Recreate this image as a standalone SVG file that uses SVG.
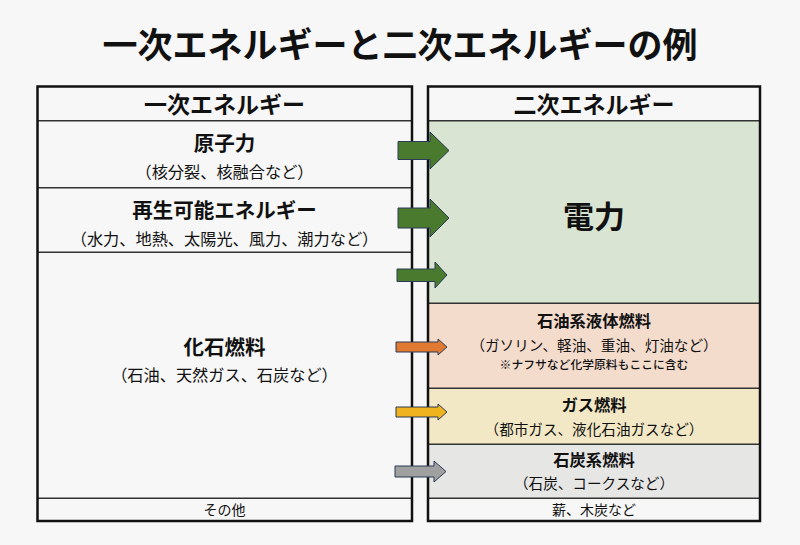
<svg xmlns="http://www.w3.org/2000/svg" width="800" height="545" viewBox="0 0 800 545">
<style>
text{font-family:"Noto Sans CJK JP","Noto Sans",sans-serif;fill:#111;text-anchor:middle}
.title{font-size:35px;font-weight:bold}
.hd{font-size:23px;font-weight:bold}
.main{font-size:20.5px;font-weight:bold}
.sec{font-size:16.3px;font-weight:bold}
.sub{font-size:16.2px}
.subr{font-size:14.6px}
.note{font-size:11.8px;font-weight:500}
.small{font-size:14px}
.frame{fill:none;stroke:#111;stroke-width:2.5}
.div{stroke:#333;stroke-width:1.5}
.arr{stroke:#2b3a57;stroke-width:1;stroke-linejoin:miter}
</style>
<rect x="0" y="0" width="800" height="545" fill="#f7f7f7"/>
<text class="title" x="400" y="58">一次エネルギーと二次エネルギーの例</text>

<g id="primary">
  <rect x="37.5" y="86.5" width="374.5" height="434.5" fill="#f7f7f7"/>
  <line class="div" x1="37.5" y1="120.7" x2="412" y2="120.7"/>
  <line class="div" x1="37.5" y1="187.7" x2="412" y2="187.7"/>
  <line class="div" x1="37.5" y1="252.3" x2="412" y2="252.3"/>
  <line class="div" x1="37.5" y1="498.3" x2="412" y2="498.3"/>
  <rect class="frame" x="37.5" y="86.5" width="374.5" height="434.5"/>
  <text class="hd" x="224.5" y="113">一次エネルギー</text>
</g>
<g id="nuclear">
  <text class="main" x="224.5" y="151">原子力</text>
  <text class="sub" x="224.5" y="177.5">（核分裂、核融合など）</text>
</g>
<g id="renewable">
  <text class="main" x="224.5" y="218">再生可能エネルギー</text>
  <text class="sub" x="224.5" y="245">（水力、地熱、太陽光、風力、潮力など）</text>
</g>
<g id="fossil">
  <text class="main" x="224.5" y="355">化石燃料</text>
  <text class="sub" x="224.5" y="380.5">（石油、天然ガス、石炭など）</text>
</g>
<g id="other">
  <text class="small" x="224.5" y="515">その他</text>
</g>

<g id="secondary">
  <rect x="428" y="86.5" width="332" height="434.5" fill="#f7f7f7"/>
  <rect x="428" y="120.7" width="332" height="182.6" fill="#d9e5d2"/>
  <rect x="428" y="303.3" width="332" height="85" fill="#f4dccd"/>
  <rect x="428" y="388.3" width="332" height="56" fill="#f3e8c5"/>
  <rect x="428" y="444.3" width="332" height="54" fill="#e6e6e5"/>
  <line class="div" x1="428" y1="120.7" x2="760" y2="120.7"/>
  <line class="div" x1="428" y1="303.3" x2="760" y2="303.3"/>
  <line class="div" x1="428" y1="388.3" x2="760" y2="388.3"/>
  <line class="div" x1="428" y1="444.3" x2="760" y2="444.3"/>
  <line class="div" x1="428" y1="498.3" x2="760" y2="498.3"/>
  <rect class="frame" x="428" y="86.5" width="332" height="434.5"/>
  <text class="hd" x="594" y="113">二次エネルギー</text>
</g>
<g id="electricity">
  <text style="font-size:31px;font-weight:bold" x="594" y="228">電力</text>
</g>
<g id="petroleum">
  <text class="sec" x="594" y="327">石油系液体燃料</text>
  <text class="subr" x="594" y="351">（ガソリン、軽油、重油、灯油など）</text>
  <text class="note" x="594" y="369">※ナフサなど化学原料もここに含む</text>
</g>
<g id="gas">
  <text class="sec" x="594" y="411">ガス燃料</text>
  <text class="subr" x="594" y="435">（都市ガス、液化石油ガスなど）</text>
</g>
<g id="coal">
  <text class="sec" x="594" y="466">石炭系燃料</text>
  <text class="subr" x="594" y="489">（石炭、コークスなど）</text>
</g>
<g id="wood">
  <text class="small" x="594" y="515">薪、木炭など</text>
</g>

<g id="connectors">
  <polygon class="arr" fill="#4a7a2e" points="398,141.5 430,141.5 430,132 449,150.5 430,169 430,159.5 398,159.5"/>
  <polygon class="arr" fill="#4a7a2e" points="398,208 430,208 430,199 449,218 430,237 430,228 398,228"/>
  <polygon class="arr" fill="#4a7a2e" points="397,269 435,269 435,262 447,275 435,288 435,281.5 397,281.5"/>
  <polygon class="arr" fill="#e07a32" points="396,342 438,342 438,339 447,347 438,355 438,352 396,352"/>
  <polygon class="arr" fill="#eeb31e" points="396,407 438,407 438,404 447,412 438,420 438,417 396,417"/>
  <polygon class="arr" fill="#a0a0a0" points="395,466 434,466 434,461 446,471.5 434,482 434,477 395,477"/>
</g>
</svg>
